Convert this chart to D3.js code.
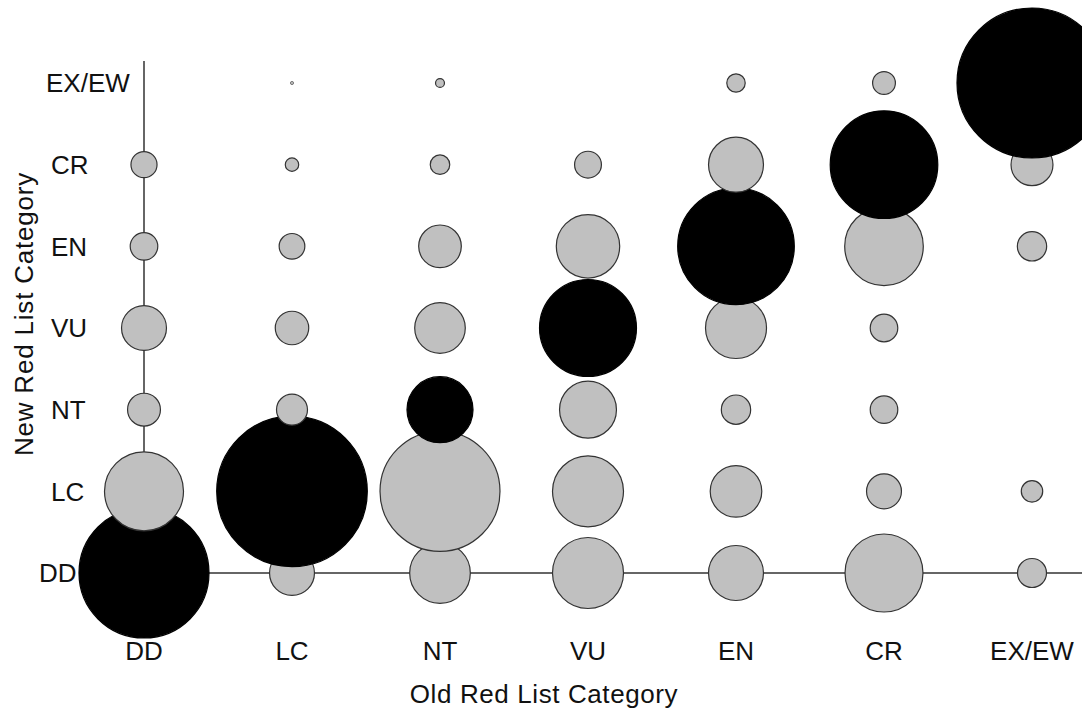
<!DOCTYPE html>
<html>
<head>
<meta charset="utf-8">
<script src="https://cdn.jsdelivr.net/npm/d3@7/dist/d3.min.js"></script>
<style>
	body { margin: 0; background: #fff; }
	text { font-family: Arial, "Liberation Sans", sans-serif; fill: #111; }
</style>
</head>
<body>
<svg id="chart" width="1082" height="713"></svg>
<script>
// categories (same for both axes)
const oldCats = ["DD", "LC", "NT", "VU", "EN", "CR", "EX/EW"];
const newCats = ["DD", "LC", "NT", "VU", "EN", "CR", "EX/EW"];

// number of species, one array per NEW category, ordered like oldCats
const newDD   = [845, 101, 184, 252, 151, 304, 42];
const newLC   = [312, 1134, 720, 252, 133, 61, 23];
const newNT   = [54, 48, 218, 162, 43, 38, 0];
const newVU   = [101, 56, 128, 470, 186, 38, 0];
const newEN   = [38, 33, 91, 201, 680, 309, 43];
const newCR   = [34, 9, 19, 36, 151, 579, 88];
const newEXEW = [0, 0.5, 4, 0, 17, 26, 1125];

const rows = [newDD, newLC, newNT, newVU, newEN, newCR, newEXEW];

// flatten, bottom row first so upper rows sit on top
const cells = [];
rows.forEach((vals, ri) => {
	vals.forEach((v, ci) => {
		if (v > 0) cells.push({ from: oldCats[ci], to: newCats[ri], value: v, same: ri === ci });
	});
});

const width = 1082;
const height = 713;

const svg = d3.select('#chart');

const x = d3.scalePoint().domain(oldCats).range([144, 1032]);
const y = d3.scalePoint().domain(newCats).range([573, 83]);
const r = d3.scaleSqrt().domain([0, 1125]).range([0, 75]);

// axis lines
svg.append('line')
	.attr('x1', x('DD')).attr('x2', width)
	.attr('y1', y('DD')).attr('y2', y('DD'))
	.attr('stroke', '#333').attr('stroke-width', 1.5);

svg.append('line')
	.attr('x1', x('DD')).attr('x2', x('DD'))
	.attr('y1', y('EX/EW') - 22).attr('y2', y('DD'))
	.attr('stroke', '#333').attr('stroke-width', 1.5);

// bubbles
svg.append('g')
	.selectAll('circle')
	.data(cells)
	.join('circle')
	.attr('cx', d => x(d.from))
	.attr('cy', d => y(d.to))
	.attr('r', d => r(d.value))
	.attr('fill', d => d.same ? '#000' : '#c0c0c0')
	.attr('stroke', d => d.same ? '#000' : '#333')
	.attr('stroke-width', d => r(d.value) < 3 ? 0.6 : 1.2);

// tick labels
const yShift = { "DD": -12, "EX/EW": -5 };

svg.append('g')
	.selectAll('text')
	.data(oldCats)
	.join('text')
	.attr('x', d => x(d))
	.attr('y', 660)
	.attr('text-anchor', 'middle')
	.style('font-size', '26px')
	.text(d => d);

svg.append('g')
	.selectAll('text')
	.data(newCats)
	.join('text')
	.attr('x', d => 51 + (yShift[d] || 0))
	.attr('y', d => y(d))
	.attr('dy', '0.36em')
	.style('font-size', '26px')
	.text(d => d);

// axis titles
svg.append('text')
	.attr('x', 544)
	.attr('y', 703)
	.attr('text-anchor', 'middle')
	.style('font-size', '26px')
	.style('letter-spacing', '0.6px')
	.text('Old Red List Category');

svg.append('text')
	.attr('transform', 'translate(33, 314) rotate(-90)')
	.attr('text-anchor', 'middle')
	.style('font-size', '26px')
	.style('letter-spacing', '0.8px')
	.text('New Red List Category');
</script>
</body>
</html>
